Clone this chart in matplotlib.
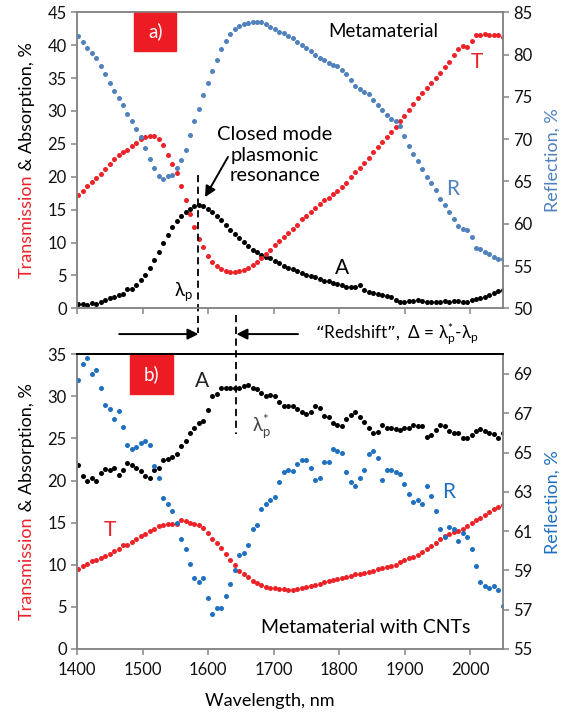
import matplotlib
matplotlib.use('Agg')
import matplotlib.pyplot as plt
import numpy as np
from matplotlib.patches import Rectangle

plt.rcParams['font.family'] = ['Lato', 'DejaVu Sans']
plt.rcParams['mathtext.default'] = 'regular'

# wavelength grid of the measured spectra, nm
wl = np.round(np.linspace(1401.6, 2049.5, 96), 1)

# a) metamaterial
top_T = [17.2, 17.9, 18.6, 19.2, 19.8, 20.4, 21.1, 21.9, 22.7, 23.3,
         23.8, 24.0, 24.7, 25.2, 25.7, 26.0, 26.2, 26.2, 25.8, 24.8,
         23.3, 22.0, 20.5, 18.6, 16.5, 14.3, 12.3, 10.6, 9.3, 7.9,
         7.0, 6.4, 5.9, 5.6, 5.5, 5.5, 5.6, 5.8, 6.1, 6.6,
         7.1, 7.6, 8.3, 8.9, 9.6, 10.2, 10.8, 11.4, 12.1, 12.7,
         13.5, 14.1, 14.7, 15.2, 15.9, 16.5, 16.8, 17.3, 17.8, 18.5,
         19.1, 19.9, 20.7, 21.4, 22.1, 22.9, 23.7, 24.5, 25.3, 26.1,
         26.8, 27.6, 28.4, 29.2, 30.2, 31.1, 32.0, 32.7, 33.5, 34.2,
         35.0, 35.8, 36.7, 37.5, 38.5, 39.4, 39.9, 39.7, 40.6, 41.6,
         41.6, 41.7, 41.6, 41.6, 41.5, 41.3]
top_R = [82.2, 81.5, 80.8, 80.2, 79.6, 78.7, 77.7, 76.6, 75.7, 74.9,
         74.0, 73.0, 72.2, 71.2, 70.2, 69.0, 67.7, 66.6, 65.7, 65.3,
         65.6, 65.8, 66.6, 67.5, 68.7, 70.5, 72.2, 73.6, 75.2, 76.6,
         78.1, 79.4, 80.7, 81.6, 82.4, 83.0, 83.4, 83.6, 83.7, 83.8,
         83.9, 83.8, 83.6, 83.3, 83.0, 82.7, 82.5, 82.2, 81.9, 81.5,
         81.1, 80.8, 80.4, 80.0, 79.6, 79.3, 79.0, 78.8, 78.7, 78.2,
         77.7, 77.0, 76.3, 75.9, 75.6, 75.3, 74.6, 74.0, 73.4, 72.8,
         72.4, 72.1, 71.6, 70.4, 69.2, 68.2, 67.4, 66.5, 65.5, 64.8,
         64.0, 62.9, 62.2, 61.4, 60.6, 59.7, 59.4, 59.3, 58.4, 57.1,
         57.0, 56.7, 56.4, 56.1, 55.8, 55.8]
top_A = [0.6, 0.6, 0.5, 0.75, 0.65, 0.9, 1.3, 1.5, 1.7, 2.0,
         2.2, 2.9, 3.0, 3.5, 4.3, 5.1, 6.1, 7.3, 8.5, 9.9,
         11.1, 12.3, 13.2, 14.0, 14.6, 15.1, 15.5, 15.7, 15.5, 15.1,
         14.7, 14.0, 13.4, 12.7, 11.9, 11.3, 10.7, 10.1, 9.4, 8.9,
         8.5, 8.1, 7.8, 7.6, 7.2, 6.9, 6.5, 6.2, 5.9, 5.6,
         5.4, 5.1, 4.9, 4.7, 4.4, 4.2, 4.1, 3.9, 3.7, 3.5,
         3.3, 3.2, 3.3, 3.5, 2.8, 2.5, 2.3, 2.1, 2.0, 1.9,
         1.7, 1.2, 1.0, 1.0, 1.1, 1.1, 1.2, 1.1, 1.0, 0.9,
         0.9, 1.0, 1.1, 1.0, 1.1, 1.1, 1.0, 0.9, 1.2, 1.4,
         1.6, 1.7, 2.0, 2.3, 2.6, 2.8]

# b) metamaterial with CNTs
bot_T = [9.5, 9.85, 10.1, 10.4, 10.6, 10.8, 11.1, 11.3, 11.6, 11.9,
         12.3, 12.4, 12.7, 13.1, 13.4, 13.7, 14.0, 14.3, 14.6, 14.7,
         14.8, 14.8, 14.9, 15.3, 15.2, 15.0, 14.8, 14.7, 14.4, 13.8,
         13.1, 12.6, 12.0, 11.3, 10.6, 10.0, 9.3, 8.9, 8.5, 8.1,
         7.8, 7.55, 7.35, 7.2, 7.2, 7.1, 7.1, 7.0, 7.05, 7.15,
         7.25, 7.35, 7.5, 7.6, 7.75, 7.9, 8.05, 8.2, 8.35, 8.45,
         8.55, 8.7, 8.85, 8.95, 9.05, 9.15, 9.3, 9.5, 9.65, 9.75,
         9.85, 10.0, 10.3, 10.55, 10.75, 10.95, 11.15, 11.5, 11.85, 12.25,
         12.6, 13.1, 13.4, 13.65, 13.85, 14.05, 14.3, 14.65, 15.0, 15.3,
         15.6, 15.9, 16.3, 16.6, 16.9, 17.1]
bot_A = [21.8, 20.6, 19.95, 20.35, 19.95, 20.9, 21.4, 21.2, 21.5, 20.7,
         21.2, 22.1, 21.9, 21.5, 21.1, 20.6, 20.35, 21.3, 21.5, 22.45,
         22.6, 22.8, 23.2, 24.15, 24.7, 25.7, 26.3, 26.8, 27.1, 28.4,
         30.0, 30.3, 31.0, 31.0, 31.0, 31.0, 30.95, 31.2, 31.3, 30.95,
         30.9, 30.4, 30.0, 30.2, 30.0, 29.3, 28.9, 28.8, 28.8, 28.5,
         28.1, 27.9, 28.1, 28.8, 28.6, 27.7, 27.5, 26.8, 26.6, 26.5,
         27.3, 27.8, 28.1, 27.5, 26.9, 26.2, 25.6, 25.8, 26.6, 26.2,
         26.2, 26.1, 26.0, 26.2, 26.3, 26.6, 26.5, 26.5, 25.2, 25.4,
         26.0, 26.6, 26.5, 25.9, 25.7, 25.6, 25.1, 25.1, 25.4, 25.9,
         26.1, 25.9, 25.7, 25.5, 25.1, 25.6]
bot_R = [68.7, 69.5, 69.8, 69.0, 69.2, 68.3, 67.4, 67.2, 66.7, 67.1,
         66.3, 65.4, 65.2, 65.3, 65.5, 65.6, 65.4, 64.3, 63.7, 62.7,
         62.4, 62.0, 61.4, 60.6, 60.1, 59.3, 58.6, 58.4, 58.6, 57.6,
         56.8, 57.1, 57.1, 57.7, 58.3, 59.0, 59.8, 59.9, 60.3, 61.1,
         61.3, 62.1, 62.4, 62.6, 62.75, 63.5, 64.0, 64.1, 64.05, 64.4,
         64.6, 64.6, 64.2, 63.6, 63.7, 64.5, 64.5, 65.2, 65.1, 65.0,
         64.0, 63.5, 63.3, 63.7, 64.1, 64.9, 65.1, 64.7, 63.6, 64.1,
         64.1, 64.0, 63.9, 63.4, 62.9, 62.5, 62.6, 62.4, 63.3, 62.8,
         62.0, 61.1, 60.7, 61.2, 61.1, 60.5, 60.9, 60.7, 60.1, 59.2,
         58.4, 58.2, 58.1, 58.2, 58.0, 57.2]

lam_p = 1585       # resonance, bare metamaterial
lam_p_star = 1643  # resonance with CNTs

RED = '#EC2227'
BLUE_A = '#4F81BD'
BLUE_B = '#1F70C1'
GRAY = '#858585'
ms = 3.6
fs_tick = 12
fs_txt = 13

fig = plt.figure(figsize=(5.64, 7.13), dpi=100)
ax1 = fig.add_axes([0.137, 0.5676, 0.755, 0.4152])
ax3 = fig.add_axes([0.137, 0.0898, 0.755, 0.4133])
ax2 = ax1.twinx()
ax4 = ax3.twinx()

ax1.plot(wl, top_A, 'o', color='k', ms=ms, mec='none')
ax1.plot(wl, top_T, 'o', color=RED, ms=ms, mec='none')
ax2.plot(wl, top_R, 'o', color=BLUE_A, ms=ms, mec='none')
ax3.plot(wl, bot_A, 'o', color='k', ms=ms, mec='none')
ax3.plot(wl, bot_T, 'o', color=RED, ms=ms, mec='none')
ax4.plot(wl, bot_R, 'o', color=BLUE_B, ms=ms, mec='none')


def style(ax, axr, ylim, yticks, ylim_r, yticks_r, xlabels):
    ax.set_xlim(1400, 2050)
    ax.set_xticks(range(1400, 2001, 100))
    ax.set_ylim(*ylim)
    ax.set_yticks(yticks)
    axr.set_ylim(*ylim_r)
    axr.set_yticks(yticks_r)
    for a in (ax, axr):
        for sp in a.spines.values():
            sp.set_color(GRAY)
            sp.set_linewidth(1.1)
        a.tick_params(direction='out', length=4.5, width=1.1, color=GRAY,
                      labelsize=fs_tick, labelcolor='#111111')
    ax.tick_params(axis='y', pad=3)
    axr.tick_params(axis='y', pad=3)
    ax.tick_params(axis='x', pad=5, labelbottom=xlabels)


style(ax1, ax2, (0, 45), range(0, 46, 5), (50, 85), range(50, 86, 5), False)
style(ax3, ax4, (0, 35), range(0, 36, 5), (55, 70), range(55, 70, 2), True)
for a in (ax3, ax4):
    a.spines['top'].set_color('k')
    a.spines['top'].set_linewidth(1.4)

# panel tags
for ax, x0, y0, w, h, tag in [(ax1, 0.134, 0.870, 0.098, 0.130, 'a)'),
                              (ax3, 0.125, 0.866, 0.100, 0.130, 'b)')]:
    ax.add_patch(Rectangle((x0, y0), w, h, transform=ax.transAxes,
                           color='#ED1C24', clip_on=False, zorder=5))
    ax.text(x0 + w / 2, y0 + h / 2, tag, transform=ax.transAxes, color='white',
            ha='center', va='center', fontsize=13.5, zorder=6)

arrow = dict(arrowstyle='-|>', color='k', lw=1.4, mutation_scale=16,
             shrinkA=0, shrinkB=0)

# annotations, panel a
ax1.text(1867, 42.0, 'Metamaterial', ha='center', va='center', fontsize=13.5)
ax1.text(1702, 23.3, 'Closed mode\nplasmonic\nresonance', ha='center',
         va='center', fontsize=14.5, linespacing=1.25)
ax1.annotate('', xy=(1595, 16.9), xytext=(1630, 23.0), arrowprops=arrow)
ax1.text(1804, 6.1, 'A', ha='center', va='center', fontsize=15)
ax1.text(2010, 37.5, 'T', ha='center', va='center', fontsize=15, color=RED)
ax1.text(1973, 18.2, 'R', ha='center', va='center', fontsize=15, color=BLUE_A)
ax1.text(1562, 2.6, 'λ$_{p}$', ha='center', va='center', fontsize=13.5)
ax1.plot([lam_p, lam_p], [20.3, -3.75], color='k', lw=1.3, ls=(0, (4, 2.5)),
         clip_on=False)

# annotations, panel b
ax3.plot([lam_p_star, lam_p_star], [39.7, 25.5], color='k', lw=1.3,
         ls=(0, (4, 2.5)), clip_on=False)
ax3.annotate('', xy=(lam_p, 37.4), xytext=(1464, 37.4), annotation_clip=False,
             arrowprops=arrow)
ax3.annotate('', xy=(lam_p_star, 37.4), xytext=(1737, 37.4),
             annotation_clip=False, arrowprops=arrow)
ax3.text(1763, 37.4, '“Redshift”,  Δ = λ$_{p}^{*}$-λ$_{p}$', ha='left',
         va='center', fontsize=12.3, clip_on=False)
ax3.text(1590, 31.8, 'A', ha='center', va='center', fontsize=15, color='#222222')
ax3.text(1450, 14.1, 'T', ha='center', va='center', fontsize=15, color=RED)
ax3.text(1967, 18.7, 'R', ha='center', va='center', fontsize=15, color=BLUE_B)
ax3.text(1682, 26.4, 'λ$_{p}^{*}$', ha='center', va='center', fontsize=13.5,
         color='#444444')
ax3.text(1841, 2.6, 'Metamaterial with CNTs', ha='center', va='center',
         fontsize=14)
ax3.text(0.4527, -0.178, 'Wavelength, nm', transform=ax3.transAxes,
         ha='center', va='center', fontsize=fs_txt)

# axis titles
for axr, col in ((ax2, BLUE_A), (ax4, BLUE_B)):
    axr.text(1.117, 0.5, 'Reflection, %', transform=axr.transAxes, rotation=90,
             ha='center', va='center', fontsize=fs_txt, color=col)


def two_color_label(ax, xfrac, pieces):
    objs = [fig.text(0, 0, s, color=c, fontsize=fs_txt, rotation=90,
                     rotation_mode='anchor', ha='left', va='baseline')
            for s, c in pieces]
    fig.canvas.draw()
    r = fig.canvas.get_renderer()
    lens = [t.get_window_extent(r).height for t in objs]
    x, yc = ax.transAxes.transform((xfrac, 0.5))
    y = yc - sum(lens) / 2
    inv = fig.transFigure.inverted()
    for t, L in zip(objs, lens):
        t.set_position(inv.transform((x, y)))
        y += L


for ax in (ax1, ax3):
    two_color_label(ax, -0.107, [('Transmission', RED),
                                 (' & Absorption, %', 'k')])

fig.savefig('out.png', dpi=100)
